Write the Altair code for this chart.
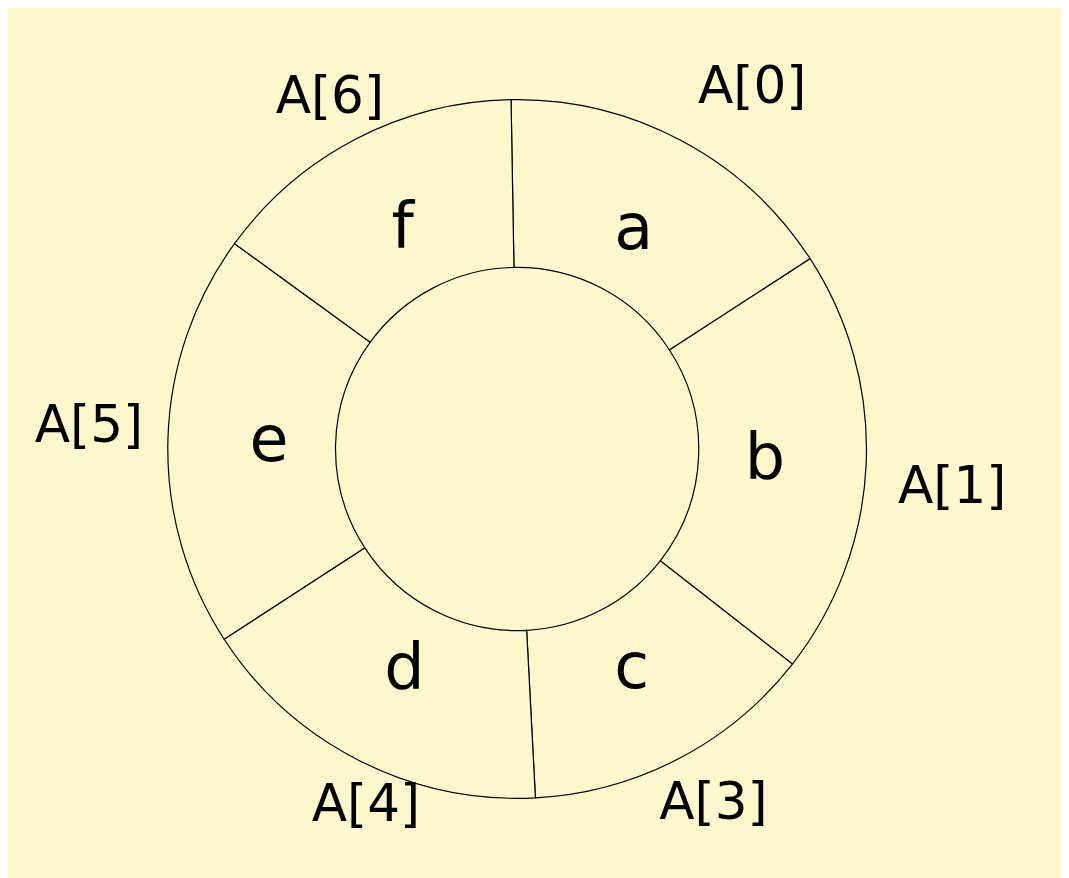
import altair as alt
import pandas as pd
import math

segments = ["a", "b", "c", "d", "e", "f"]
seg_start = [-1, 57, 128, 177, 237, 306]
seg_end = [57, 128, 177, 237, 306, 359]

outer_labels = ["A[0]", "A[1]", "A[3]", "A[4]", "A[5]", "A[6]"]
outer_angle = [33, 95, 151, 203, 273, 332]
outer_radius = [435, 440, 408, 390, 432, 402]

seg_df = pd.DataFrame({"seg": segments, "start": seg_start, "end": seg_end})
seg_df["mid"] = (seg_df["start"] + seg_df["end"]) / 2
seg_df["r"] = 250
lab_df = pd.DataFrame({"lab": outer_labels, "ang": outer_angle, "r": outer_radius})

th = alt.Scale(domain=[0, 360], range=[0, 2 * math.pi])
rs = alt.Scale(type="linear", domain=[0, 500], range=[0, 500], zero=True)
BG = "#FCF7CC"
FONT = "DejaVu Sans"
cx = alt.value(513)
cy = alt.value(441)

arcs = alt.Chart(seg_df).mark_arc(
    innerRadius=183, outerRadius=352, fill=BG, stroke="black", strokeWidth=1.2
).encode(
    theta=alt.Theta("start:Q", scale=th),
    theta2="end:Q",
    x=cx, y=cy,
)

letters = alt.Chart(seg_df).mark_text(fontSize=64, font=FONT, color="black").encode(
    theta=alt.Theta("mid:Q", scale=th),
    radius=alt.Radius("r:Q", scale=rs),
    text="seg:N",
    x=cx, y=cy,
)

outer = alt.Chart(lab_df).mark_text(fontSize=52, font=FONT, color="black").encode(
    theta=alt.Theta("ang:Q", scale=th),
    radius=alt.Radius("r:Q", scale=rs),
    text="lab:N",
    x=cx, y=cy,
)

chart = alt.layer(arcs, letters, outer).properties(
    width=1061, height=870, autosize=alt.AutoSizeParams(type="none"), padding=0,
    background=BG,
).configure_view(stroke=None)

chart.save("out.html", embed_options={"renderer": "svg", "actions": False})
